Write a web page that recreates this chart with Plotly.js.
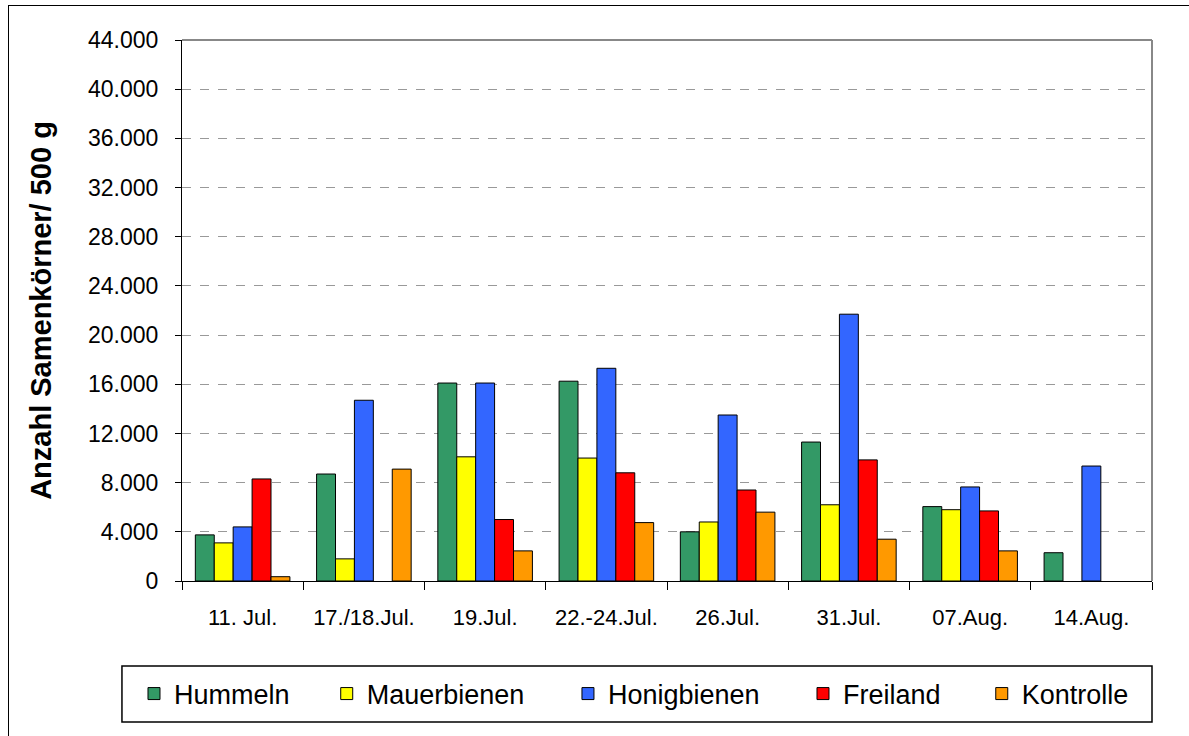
<!DOCTYPE html>
<html>
<head>
<meta charset="utf-8">
<script src="https://cdn.plot.ly/plotly-3.0.1.min.js"></script>
<style>
  html, body { margin: 0; padding: 0; background: #fff; overflow: hidden; }
  #frame { position: absolute; left: 8px; top: 5px; width: 1200px; height: 740px; border: 1.5px solid #000; pointer-events: none; z-index: 5; }
  #chart { position: absolute; left: 0; top: 0; width: 1189px; height: 736px; }
</style>
</head>
<body>
<div id="chart"></div>
<div id="frame"></div>
<script>
const categories = ["11. Jul.", "17./18.Jul.", "19.Jul.", "22.-24.Jul.", "26.Jul.", "31.Jul.", "07.Aug.", "14.Aug."];
const seriesNames = ["Hummeln", "Mauerbienen", "Honigbienen", "Freiland", "Kontrolle"];
const hummeln     = [3750, 8700, 16100, 16250, 4000, 11300, 6050, 2300];
const mauerbienen = [3100, 1800, 10100, 10000, 4800, 6200, 5800, null];
const honigbienen = [4400, 14700, 16100, 17300, 13500, 21700, 7650, 9350];
const freiland    = [8300, null, 5000, 8800, 7400, 9850, 5700, null];
const kontrolle   = [350, 9100, 2450, 4750, 5600, 3400, 2450, null];
const yTicks = [0, 4000, 8000, 12000, 16000, 20000, 24000, 28000, 32000, 36000, 40000, 44000];

const colors = ["#339966", "#FFFF00", "#3366FF", "#FF0000", "#FF9900"];
const values = [hummeln, mauerbienen, honigbienen, freiland, kontrolle];
const legendX = [-0.0495, 0.1492, 0.3979, 0.6402, 0.8245];
const FONT = "Arial, 'Liberation Sans', sans-serif";

const legendIds = ["legend", "legend2", "legend3", "legend4", "legend5"];

const traces = values.map((v, i) => ({
  type: "bar",
  name: seriesNames[i],
  x: categories,
  y: v,
  legend: legendIds[i],
  showlegend: true,
  marker: { color: colors[i], line: { color: "#000", width: 1 } },
  hoverinfo: "x+y+name"
}));

const layout = {
  width: 1189,
  height: 736,
  showlegend: true,
  separators: ",.",
  margin: { l: 182, r: 37, t: 40, b: 155 },
  paper_bgcolor: "rgba(0,0,0,0)",
  plot_bgcolor: "#fff",
  barmode: "group",
  bargap: 0.22,
  bargroupgap: 0,
  font: { family: FONT, color: "#000", size: 22 },
  xaxis: {
    type: "category",
    tickson: "boundaries",
    ticks: "outside",
    ticklen: 8,
    tickcolor: "#000",
    showline: true,
    linecolor: "#000",
    linewidth: 1,
    showgrid: false,
    ticklabelstandoff: 17,
    tickfont: { size: 22, family: FONT }
  },
  yaxis: {
    range: [0, 44000],
    tickvals: yTicks,
    tickformat: ",d",
    ticks: "outside",
    ticklen: 6,
    tickcolor: "#000",
    showline: true,
    linecolor: "#000",
    linewidth: 1,
    showgrid: true,
    gridcolor: "#999",
    griddash: "dash",
    gridwidth: 1,
    zeroline: false,
    ticklabelstandoff: 12,
    tickfont: { size: 23, family: FONT },
    title: { text: "<b>Anzahl Samenkörner/ 500 g</b>", font: { size: 29, family: FONT }, standoff: 27 }
  },
  shapes: [
    { type: "line", xref: "paper", yref: "paper", x0: 0, x1: 1, y0: 1, y1: 1, line: { color: "#888", width: 2 } },
    { type: "line", xref: "paper", yref: "paper", x0: 1, x1: 1, y0: 0, y1: 1, line: { color: "#888", width: 2 } },
    { type: "rect", xref: "paper", yref: "paper", x0: -0.0619, x1: 1.0, y0: -0.2606, y1: -0.1571, line: { color: "#000", width: 1.5 }, fillcolor: "rgba(0,0,0,0)" }
  ]
};

legendIds.forEach((id, i) => {
  layout[id] = {
    orientation: "h",
    x: legendX[i],
    xanchor: "left",
    y: -0.2089,
    yanchor: "middle",
    bgcolor: "rgba(0,0,0,0)",
    borderwidth: 0,
    font: { size: 27, family: FONT }
  };
});

Plotly.newPlot("chart", traces, layout, { displayModeBar: false, staticPlot: true });
</script>
</body>
</html>
